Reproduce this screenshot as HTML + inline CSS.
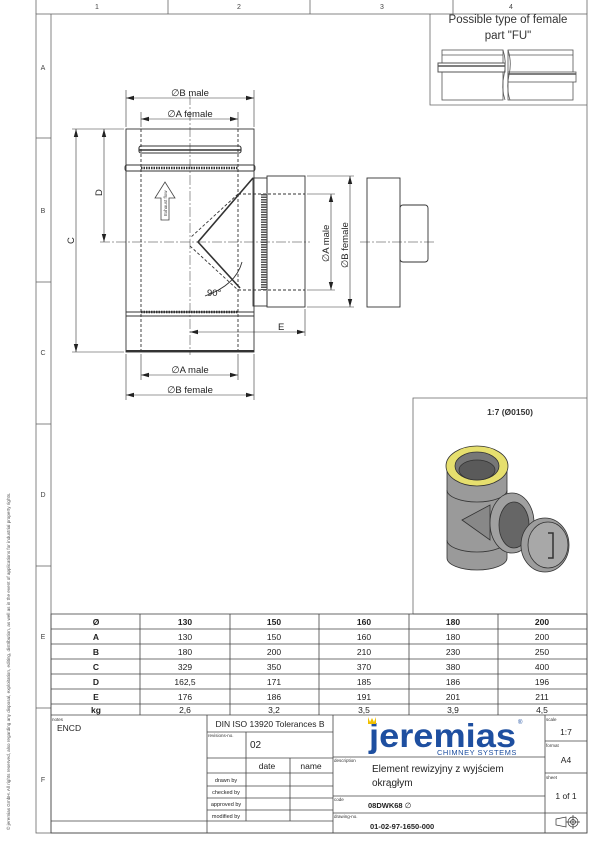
<!DOCTYPE html>
<html><head><meta charset="utf-8"><style>
html,body{margin:0;padding:0;background:#fff}
svg{display:block;font-family:"Liberation Sans",sans-serif}
</style></head><body>
<svg width="600" height="848" viewBox="0 0 600 848" xmlns="http://www.w3.org/2000/svg">
<defs>
<marker id="ar" markerWidth="8" markerHeight="6" refX="8" refY="3" orient="auto-start-reverse" markerUnits="userSpaceOnUse"><path d="M0,0.8 L8,3 L0,5.2z" fill="#222"/></marker>
</defs>
<g stroke="#666" stroke-width="0.8" fill="none">
<rect x="36" y="14" width="551" height="819"/>
<line x1="51" y1="14" x2="51" y2="833"/>
<line x1="36" y1="0" x2="36" y2="14"/>
<line x1="168" y1="0" x2="168" y2="14"/>
<line x1="310" y1="0" x2="310" y2="14"/>
<line x1="453" y1="0" x2="453" y2="14"/>
<line x1="587" y1="0" x2="587" y2="14"/>
<line x1="36" y1="138" x2="51" y2="138"/>
<line x1="36" y1="282" x2="51" y2="282"/>
<line x1="36" y1="424" x2="51" y2="424"/>
<line x1="36" y1="566" x2="51" y2="566"/>
<line x1="36" y1="708" x2="51" y2="708"/>
<polyline points="430,14 430,105 587,105"/>
<polyline points="413,614 413,398 587,398"/>
<line x1="413" y1="614" x2="587" y2="614"/>
</g>
<g font-size="7" fill="#444" text-anchor="middle">
<text x="97" y="9">1</text><text x="239" y="9">2</text><text x="382" y="9">3</text><text x="511" y="9">4</text>
<text x="43" y="70">A</text><text x="43" y="213">B</text><text x="43" y="355">C</text><text x="43" y="497">D</text><text x="43" y="639">E</text><text x="43" y="782">F</text>
</g>
<text transform="translate(10,830) rotate(-90)" font-size="4.6" fill="#555">© jeremias GmbH. All rights reserved, also regarding any disposal, exploitation, editing, distribution, as well as in the event of applications for industrial property rights.</text>

<text x="508" y="23" font-size="11.5" fill="#333" text-anchor="middle">Possible type of female</text>
<text x="508" y="39" font-size="11.5" fill="#333" text-anchor="middle">part "FU"</text>
<g stroke="#555" stroke-width="0.8" fill="#fff">
<rect x="442" y="50" width="61" height="50"/>
<line x1="442" y1="55" x2="503" y2="55"/>
<rect x="438" y="63" width="67" height="9" stroke-width="1"/>
<line x1="438" y1="66" x2="505" y2="66" stroke-width="1.6"/>
<rect x="508" y="50" width="65" height="50"/>
<line x1="508" y1="55" x2="573" y2="55"/>
<rect x="508" y="72" width="68" height="10"/>
<line x1="508" y1="74" x2="576" y2="74" stroke-width="1.6"/>
<path d="M503,50 Q507,62 504,75 Q501,88 505,100" fill="none"/>
<path d="M508,50 Q512,62 509,75 Q506,88 510,100" fill="none"/>
</g>

<g stroke="#333" stroke-width="0.9" fill="none">
<rect x="126" y="129" width="128" height="223"/>
<line x1="126" y1="312" x2="254" y2="312"/>
<line x1="126" y1="316" x2="254" y2="316"/>
<rect x="125" y="165" width="130" height="6" rx="2"/>
<rect x="139" y="146" width="102" height="7" rx="2" stroke-width="1.1"/>
<line x1="139" y1="150" x2="241" y2="150" stroke-width="1.5"/>
<line x1="141" y1="129" x2="141" y2="352" stroke-dasharray="3,2"/>
<line x1="238" y1="129" x2="238" y2="352" stroke-dasharray="3,2"/>
<line x1="141" y1="168" x2="238" y2="168" stroke-width="2.5" stroke-dasharray="1.5,1"/>
<line x1="141" y1="312" x2="238" y2="312" stroke-width="2.5" stroke-dasharray="1.5,1"/>
<line x1="126" y1="351" x2="254" y2="351" stroke-width="2"/>
<path d="M253,178 L198,242 L240,288" stroke-width="1.6"/>
<path d="M238,194 L190,238 M190,246 L238,290" stroke-dasharray="3,2"/>
<rect x="253" y="178" width="14" height="128"/>
<rect x="267" y="176" width="38" height="131"/>
<line x1="238" y1="194" x2="305" y2="194" stroke-dasharray="3,2"/>
<line x1="238" y1="290" x2="305" y2="290" stroke-dasharray="3,2"/>
<line x1="264" y1="194" x2="264" y2="290" stroke-width="6" stroke-dasharray="1.5,1" stroke="#555"/>
<path d="M242,262 Q236,285 205,296"/>
<line x1="100" y1="242" x2="310" y2="242" stroke-width="0.5" stroke-dasharray="10,2,2,2"/>
<line x1="190" y1="95" x2="190" y2="355" stroke-width="0.5" stroke-dasharray="10,2,2,2"/>
<rect x="367" y="178" width="33" height="129"/>
<rect x="400" y="205" width="28" height="57" rx="3"/>
<line x1="360" y1="242" x2="435" y2="242" stroke-width="0.5" stroke-dasharray="10,2,2,2"/>
</g>
<path d="M161,220 L161,198 L155,198 L165,182 L175,198 L169,198 L169,220z" fill="#fff" stroke="#444" stroke-width="0.8"/>
<text transform="translate(167,216) rotate(-90)" font-size="4.5" fill="#444">Exhaust flow</text>
<g stroke="#333" stroke-width="0.6" fill="none">
<line x1="126" y1="90" x2="126" y2="127"/><line x1="254" y1="90" x2="254" y2="127"/>
<line x1="141" y1="112" x2="141" y2="127"/><line x1="238" y1="112" x2="238" y2="127"/>
<line x1="126" y1="98" x2="254" y2="98" marker-start="url(#ar)" marker-end="url(#ar)"/>
<line x1="141" y1="119" x2="238" y2="119" marker-start="url(#ar)" marker-end="url(#ar)"/>
<line x1="72" y1="129" x2="124" y2="129"/><line x1="72" y1="352" x2="124" y2="352"/>
<line x1="76" y1="129" x2="76" y2="352" marker-start="url(#ar)" marker-end="url(#ar)"/>
<line x1="104" y1="129" x2="104" y2="242" marker-start="url(#ar)" marker-end="url(#ar)"/>
<line x1="307" y1="194" x2="335" y2="194"/><line x1="307" y1="290" x2="335" y2="290"/>
<line x1="307" y1="176" x2="354" y2="176"/><line x1="307" y1="307" x2="354" y2="307"/>
<line x1="331" y1="194" x2="331" y2="290" marker-start="url(#ar)" marker-end="url(#ar)"/>
<line x1="350" y1="176" x2="350" y2="307" marker-start="url(#ar)" marker-end="url(#ar)"/>
<line x1="305" y1="309" x2="305" y2="336"/>
<line x1="190" y1="332" x2="305" y2="332" marker-start="url(#ar)" marker-end="url(#ar)"/>
<line x1="141" y1="354" x2="141" y2="380"/><line x1="238" y1="354" x2="238" y2="380"/>
<line x1="126" y1="354" x2="126" y2="400"/><line x1="254" y1="354" x2="254" y2="400"/>
<line x1="141" y1="375" x2="238" y2="375" marker-start="url(#ar)" marker-end="url(#ar)"/>
<line x1="126" y1="395" x2="254" y2="395" marker-start="url(#ar)" marker-end="url(#ar)"/>
</g>
<g font-size="9.5" fill="#222">
<text x="190" y="96" text-anchor="middle">∅B male</text>
<text x="190" y="117" text-anchor="middle">∅A female</text>
<text x="190" y="373" text-anchor="middle">∅A male</text>
<text x="190" y="393" text-anchor="middle">∅B female</text>
<text x="278" y="330">E</text>
<text x="207" y="296">90°</text>
<text transform="translate(74,244) rotate(-90)">C</text>
<text transform="translate(102,196) rotate(-90)">D</text>
<text transform="translate(329,262) rotate(-90)">∅A male</text>
<text transform="translate(348,268) rotate(-90)">∅B female</text>
</g>

<text x="510" y="415" font-size="8.5" font-weight="bold" fill="#333" text-anchor="middle">1:7 (Ø0150)</text>
<g stroke="#333" stroke-width="0.8">
<path d="M447,470 L447,558 A30,12 0 0 0 507,558 L507,470z" fill="#9a9a9a"/>
<path d="M447,490 A30,12 0 0 0 507,490" fill="none"/>
<path d="M447,540 A30,12 0 0 0 507,540" fill="none"/>
<path d="M462,520 L490,505 L490,540z" fill="#888"/>
<ellipse cx="477" cy="466" rx="31" ry="20" fill="#e6df6e"/>
<ellipse cx="477" cy="466" rx="22" ry="14" fill="#777"/>
<ellipse cx="477" cy="470" rx="18" ry="10" fill="#5a5a5a"/>
<ellipse cx="512" cy="523" rx="22" ry="30" fill="#a0a0a0"/>
<ellipse cx="514" cy="525" rx="15" ry="23" fill="#666"/>
<ellipse cx="545" cy="545" rx="24" ry="27" fill="#9d9d9d"/>
<ellipse cx="548" cy="545" rx="20" ry="23" fill="#a8a8a8"/>
<path d="M548,533 L553,533 L553,558 L548,558" fill="none" stroke-width="1.5"/>
</g>

<g stroke="#444" stroke-width="0.8" fill="none">
<rect x="51" y="614" width="536" height="219"/>
<line x1="51" y1="629" x2="587" y2="629"/>
<line x1="51" y1="644" x2="587" y2="644"/>
<line x1="51" y1="659" x2="587" y2="659"/>
<line x1="51" y1="674" x2="587" y2="674"/>
<line x1="51" y1="689" x2="587" y2="689"/>
<line x1="51" y1="704" x2="587" y2="704"/>
<line x1="51" y1="715" x2="587" y2="715"/>
<line x1="140" y1="614" x2="140" y2="715"/><line x1="230" y1="614" x2="230" y2="715"/><line x1="319" y1="614" x2="319" y2="715"/><line x1="409" y1="614" x2="409" y2="715"/><line x1="498" y1="614" x2="498" y2="715"/>
<line x1="207" y1="715" x2="207" y2="833"/>
<line x1="333" y1="715" x2="333" y2="833"/>
<line x1="545" y1="715" x2="545" y2="833"/>
<line x1="51" y1="821" x2="333" y2="821"/>
<line x1="207" y1="732" x2="333" y2="732"/>
<line x1="207" y1="758" x2="333" y2="758"/>
<line x1="246" y1="732" x2="246" y2="758"/>
<line x1="207" y1="773" x2="333" y2="773"/>
<line x1="207" y1="786" x2="333" y2="786"/>
<line x1="207" y1="798" x2="333" y2="798"/>
<line x1="207" y1="810" x2="333" y2="810"/>
<line x1="246" y1="758" x2="246" y2="821"/>
<line x1="290" y1="758" x2="290" y2="821"/>
<line x1="333" y1="757" x2="545" y2="757"/>
<line x1="333" y1="796" x2="545" y2="796"/>
<line x1="333" y1="813" x2="587" y2="813"/>
<line x1="545" y1="741" x2="587" y2="741"/>
<line x1="545" y1="773" x2="587" y2="773"/>
</g>
<g font-size="8.5" fill="#222" text-anchor="middle">
<g font-weight="bold"><text x="96" y="625">Ø</text><text x="185" y="625">130</text><text x="274" y="625">150</text><text x="364" y="625">160</text><text x="453" y="625">180</text><text x="542" y="625">200</text>
<text x="96" y="640">A</text><text x="96" y="655">B</text><text x="96" y="670">C</text><text x="96" y="685">D</text><text x="96" y="700">E</text><text x="96" y="713">kg</text></g>
<text x="185" y="640">130</text><text x="274" y="640">150</text><text x="364" y="640">160</text><text x="453" y="640">180</text><text x="542" y="640">200</text>
<text x="185" y="655">180</text><text x="274" y="655">200</text><text x="364" y="655">210</text><text x="453" y="655">230</text><text x="542" y="655">250</text>
<text x="185" y="670">329</text><text x="274" y="670">350</text><text x="364" y="670">370</text><text x="453" y="670">380</text><text x="542" y="670">400</text>
<text x="185" y="685">162,5</text><text x="274" y="685">171</text><text x="364" y="685">185</text><text x="453" y="685">186</text><text x="542" y="685">196</text>
<text x="185" y="700">176</text><text x="274" y="700">186</text><text x="364" y="700">191</text><text x="453" y="700">201</text><text x="542" y="700">211</text>
<text x="185" y="713">2,6</text><text x="274" y="713">3,2</text><text x="364" y="713">3,5</text><text x="453" y="713">3,9</text><text x="542" y="713">4,5</text>
<text x="270" y="727">DIN ISO 13920 Tolerances B</text>
<text y="748" font-size="10" text-anchor="start" x="250">02</text>
<text x="267" y="769">date</text><text x="311" y="769">name</text>
<g font-size="5.5"><text x="226" y="782">drawn by</text><text x="226" y="794">checked by</text><text x="226" y="806">approved by</text><text x="226" y="818">modified by</text></g>
<text x="566" y="735">1:7</text><text x="566" y="763">A4</text><text x="566" y="799">1 of 1</text>
</g>
<g font-size="4.5" fill="#333"><text x="52" y="721">notes</text><text x="208" y="737">revisions-no.</text><text x="334" y="762">description</text><text x="334" y="801">code</text><text x="334" y="818">drawing-no.</text><text x="546" y="721">scale</text><text x="546" y="747">format</text><text x="546" y="779">sheet</text></g>
<text x="57" y="731" font-size="8.5" fill="#222">ENCD</text>
<text x="369" y="747" font-size="33" font-weight="bold" fill="#1e4fa0" textLength="147" lengthAdjust="spacingAndGlyphs">jeremias</text>
<text x="518" y="724" font-size="6" fill="#1e4fa0">®</text>
<path d="M368,717 L370,722 L372,718 L374,722 L376,717 L376,724 L368,724z" fill="#f0c000"/>
<text x="437" y="755" font-size="7.5" fill="#1e4fa0" letter-spacing="0.5">CHIMNEY SYSTEMS</text>
<text x="372" y="772" font-size="10" fill="#222">Element rewizyjny z wyjściem</text>
<text x="372" y="786" font-size="10" fill="#222">okrągłym</text>
<text x="368" y="808" font-size="7.5" font-weight="bold" fill="#222">08DWK68 <tspan font-weight="normal">∅</tspan></text>
<text x="370" y="829" font-size="7.5" font-weight="bold" fill="#222">01-02-97-1650-000</text>
<g stroke="#333" stroke-width="0.7" fill="none"><path d="M556,819 L566,817 L566,827 L556,825z"/><circle cx="573" cy="822" r="5"/><circle cx="573" cy="822" r="2.5"/><line x1="566" y1="822" x2="580" y2="822"/><line x1="573" y1="815" x2="573" y2="829"/></g>
</svg>
</body></html>
